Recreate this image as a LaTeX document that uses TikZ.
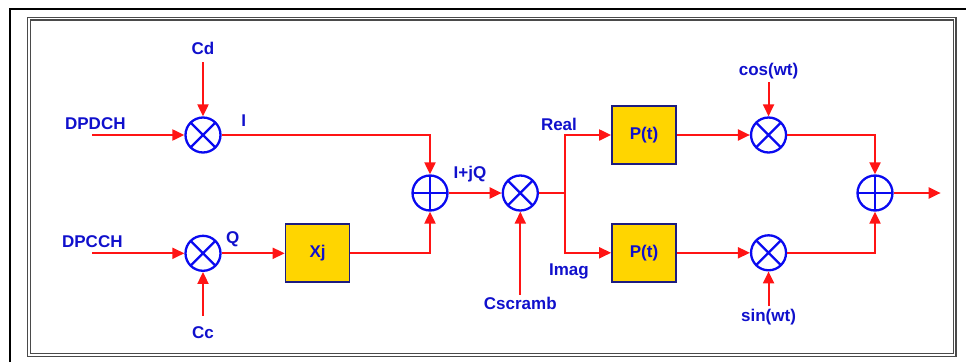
\documentclass[tikz,border=0pt]{standalone}
\usepackage{fontspec}
\setmainfont{Liberation Sans}
\usetikzlibrary{arrows.meta,positioning,calc}
\definecolor{sRed}{HTML}{FF1414}
\definecolor{sBlue}{HTML}{0A0AF0}
\definecolor{sText}{HTML}{1010CC}
\definecolor{sGold}{HTML}{FFD500}
\definecolor{sNavy}{HTML}{1C1C80}
\definecolor{sFrame}{HTML}{4A4A4A}

\begin{document}
\begin{tikzpicture}[
  x=1pt, y=1pt,
  font=\fontsize{17}{20}\selectfont\bfseries, text=sText,
  >={Triangle[length=12pt, width=11pt]},
  sig/.style={->, draw=sRed, line width=2.1pt},
  wire/.style={draw=sRed, line width=2.1pt},
  mul/.style={circle, draw=sBlue, line width=2.3pt, minimum size=35pt, inner sep=0pt,
              path picture={\draw[sBlue, line width=2.3pt]
                (path picture bounding box.north east) -- (path picture bounding box.south west)
                (path picture bounding box.north west) -- (path picture bounding box.south east);}},
  add/.style={circle, draw=sBlue, line width=2.3pt, minimum size=35pt, inner sep=0pt,
              path picture={\draw[sBlue, line width=2.3pt]
                (path picture bounding box.north) -- (path picture bounding box.south)
                (path picture bounding box.west) -- (path picture bounding box.east);}},
  blk/.style={rectangle, draw=sNavy, line width=1.8pt, fill=sGold,
              minimum width=64pt, minimum height=58pt, inner sep=0pt},
  lbl/.style={inner sep=1pt, outer sep=2pt},
]
\useasboundingbox (0,0) rectangle (966,-362);

% frames
\draw[black, line width=2pt] (10,-362) -- (10,-9) -- (966,-9);
\draw[sFrame, line width=1.2pt, double=white, double distance=1.6pt]
  (28.7,-18.5) rectangle (954.6,-354.8);

% spreading branch
\node[mul] (mulD) at (203,-135) {};
\node[mul, below=81pt of mulD] (mulC) {};
\node[blk, right=63pt of mulC] (xj) {Xj};
\node[add] (add1) at (430,-193) {};
\node[mul, right=53pt of add1] (mulS) {};

% modulator
\node[blk] (pRe) at (644,-135) {P(t)};
\node[blk, below=58pt of pRe] (pIm) {P(t)};
\node[mul, right=73pt of pRe] (mCos) {};
\node[mul, right=73pt of pIm] (mSin) {};
\node[add] (add2) at (875,-193) {};

% free ends
\coordinate[left=92pt of mulD] (inD);
\coordinate[left=92pt of mulC] (inC);
\coordinate (br) at ($(mulS.east)+(26,0)$);
\coordinate[right=47pt of add2] (out);

% input labels
\node[lbl, above=2pt of inD, xshift=3pt] (dpdch) {DPDCH};
\node[lbl, above=3pt of inC] (dpcch) {DPCCH};
\node[lbl, outer sep=7pt, above=54pt of mulD] (cd) {Cd};
\node[lbl, outer sep=10pt, below=44pt of mulC] (cc) {Cc};
\node[lbl, below=83pt of mulS] (scr) {Cscramb};
\node[lbl, above=34pt of mCos] (cosw) {cos(wt)};
\node[lbl, below=35pt of mSin] (sinw) {sin(wt)};

% line labels
\node[lbl] (lI) at ($(mulD.east)+(22,14)$) {I};
\node[lbl] (lQ) at ($(mulC.east)+(11,14)$) {Q};
\node[lbl] (lIQ) at ($(add1)+(40,19)$) {I+jQ};
\node[lbl] (lRe) at ($(br|-pRe)+(-6,11)$) {Real};
\node[lbl] (lIm) at ($(br|-pIm)+(4,-19)$) {Imag};

% connectors
\draw[sig] (inD) -- (mulD);
\draw[sig] (cd) -- (mulD);
\draw[sig] (mulD) -| (add1);
\draw[sig] (inC) -- (mulC);
\draw[sig] (cc) -- (mulC);
\draw[sig] (mulC) -- (xj);
\draw[sig] (xj) -| (add1);
\draw[sig] (add1) -- (mulS);
\draw[sig] (scr) -- (mulS);
\draw[wire] (mulS) -- (br);
\draw[sig] (br) |- (pRe);
\draw[sig] (br) |- (pIm);
\draw[sig] (pRe) -- (mCos);
\draw[sig] (cosw) -- (mCos);
\draw[sig] (pIm) -- (mSin);
\draw[sig] (sinw) -- (mSin);
\draw[sig] (mCos) -| (add2);
\draw[sig] (mSin) -| (add2);
\draw[sig] (add2) -- (out);

\end{tikzpicture}
\end{document}
